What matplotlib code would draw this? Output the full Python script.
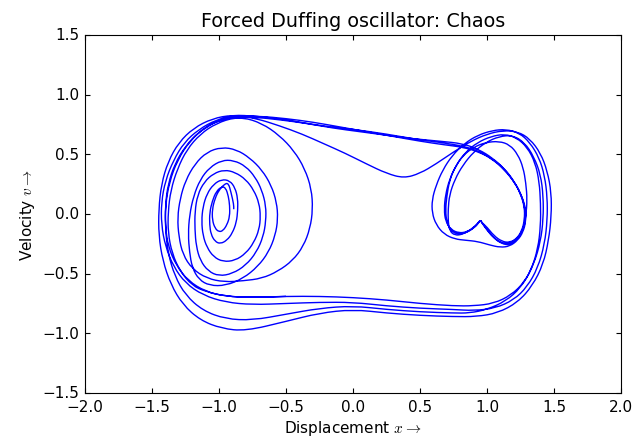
import matplotlib
matplotlib.use('Agg')
import matplotlib.pyplot as plt
import numpy as np
from matplotlib.patches import PathPatch
from matplotlib.path import Path

# phase-space trajectory, split into passes
# (x = displacement, v = velocity), drawn in order
escape1_x = [-0.50, -0.75, -0.95, -1.10, -1.20, -1.29, -1.35, -1.38, -1.38, -1.36, -1.31, -1.24, -1.14, -1.02,
             -0.88, -0.72, -0.55, -0.35, -0.15, 0.05, 0.25, 0.45, 0.65]
escape1_v = [-0.69, -0.70, -0.69, -0.65, -0.60, -0.48, -0.33, -0.16, 0.02, 0.20, 0.38, 0.54, 0.67, 0.76,
             0.81, 0.81, 0.79, 0.76, 0.72, 0.69, 0.66, 0.63, 0.61]

right1_x = [0.82, 0.94, 1.04, 1.13, 1.20, 1.25, 1.28, 1.28, 1.26, 1.22, 1.16, 1.10, 1.04, 0.99, 0.96, 0.95, 0.94,
            0.90, 0.84, 0.78, 0.73, 0.70, 0.69, 0.70, 0.72, 0.76, 0.82, 0.90, 0.99, 1.09, 1.17, 1.23, 1.27, 1.29,
            1.30, 1.29, 1.27, 1.23, 1.17, 1.11, 1.05, 1.00, 0.96, 0.95, 0.93, 0.88, 0.82, 0.76, 0.72, 0.71, 0.71,
            0.72, 0.76, 0.82, 0.90, 0.99, 1.09, 1.19, 1.28, 1.35, 1.40, 1.42, 1.42, 1.40, 1.35, 1.28, 1.18, 1.05,
            0.90]
right1_v = [0.59, 0.54, 0.47, 0.38, 0.28, 0.17, 0.06, -0.05, -0.14, -0.21, -0.25, -0.24, -0.19, -0.12, -0.07, -0.05,
            -0.07, -0.12, -0.16, -0.17, -0.14, -0.07, 0.03, 0.15, 0.28, 0.39, 0.49, 0.56, 0.60, 0.61, 0.58, 0.50,
            0.39, 0.26, 0.12, -0.02, -0.13, -0.21, -0.26, -0.25, -0.20, -0.13, -0.07, -0.05, -0.08, -0.13, -0.17,
            -0.18, -0.14, -0.06, 0.04, 0.16, 0.29, 0.41, 0.52, 0.60, 0.65, 0.66, 0.60, 0.48, 0.33, 0.15, -0.04,
            -0.23, -0.42, -0.57, -0.68, -0.75, -0.77]

return1_x = [0.75, 0.50, 0.25, 0.00, -0.25, -0.50, -0.75, -0.95, -1.10, -1.23, -1.32, -1.38, -1.40, -1.40, -1.38,
             -1.33, -1.25, -1.15, -1.02, -0.88, -0.70, -0.50, -0.30, -0.10, 0.10, 0.30, 0.50, 0.68]
return1_v = [-0.77, -0.75, -0.72, -0.70, -0.69, -0.69, -0.70, -0.69, -0.65, -0.56, -0.43, -0.27, -0.10, 0.08, 0.25,
             0.42, 0.57, 0.69, 0.78, 0.82, 0.82, 0.80, 0.77, 0.73, 0.69, 0.65, 0.61, 0.58]

right2_x = [0.82, 0.94, 1.04, 1.13, 1.21, 1.26, 1.29, 1.29, 1.27, 1.23, 1.17, 1.10, 1.02, 0.93, 0.84, 0.76, 0.68,
            0.62, 0.59, 0.59, 0.62, 0.67, 0.74, 0.83, 0.93, 1.04, 1.14, 1.24, 1.32, 1.39, 1.43, 1.45, 1.45, 1.43,
            1.38, 1.30, 1.20, 1.06, 0.90]
right2_v = [0.56, 0.52, 0.46, 0.37, 0.26, 0.15, 0.04, -0.06, -0.15, -0.22, -0.27, -0.28, -0.26, -0.23, -0.22, -0.21,
            -0.17, -0.09, 0.01, 0.12, 0.24, 0.37, 0.49, 0.59, 0.66, 0.70, 0.71, 0.68, 0.60, 0.47, 0.32, 0.14,
            -0.05, -0.25, -0.45, -0.61, -0.72, -0.79, -0.81]

return2_x = [0.75, 0.50, 0.25, 0.00, -0.25, -0.50, -0.75, -0.95, -1.12, -1.25, -1.34, -1.40, -1.43, -1.43, -1.40,
             -1.34, -1.26, -1.15, -1.02, -0.88, -0.72, -0.55, -0.38, -0.22, -0.06, 0.10, 0.25, 0.38]
return2_v = [-0.80, -0.79, -0.77, -0.74, -0.74, -0.75, -0.76, -0.74, -0.68, -0.58, -0.44, -0.27, -0.09, 0.10, 0.28,
             0.45, 0.60, 0.71, 0.79, 0.83, 0.80, 0.74, 0.67, 0.59, 0.51, 0.42, 0.34, 0.30]

right3_x = [0.50, 0.62, 0.75, 0.88, 1.00, 1.12, 1.23, 1.32, 1.40, 1.45, 1.48, 1.48, 1.46, 1.42, 1.34, 1.23, 1.08,
            0.92]
right3_v = [0.34, 0.42, 0.52, 0.61, 0.67, 0.70, 0.69, 0.63, 0.51, 0.36, 0.18, -0.02, -0.22, -0.42, -0.60, -0.74,
            -0.83, -0.86]

return3_x = [0.75, 0.50, 0.25, 0.00, -0.25, -0.50, -0.80, -0.98, -1.14, -1.27, -1.36, -1.42, -1.45, -1.45, -1.43,
             -1.38, -1.30, -1.19, -1.05, -0.90, -0.72, -0.50, -0.25, 0.00, 0.25, 0.45, 0.65]
return3_v = [-0.86, -0.85, -0.83, -0.80, -0.83, -0.90, -0.98, -0.96, -0.89, -0.76, -0.59, -0.39, -0.18, 0.04, 0.25,
             0.44, 0.60, 0.72, 0.80, 0.83, 0.82, 0.79, 0.74, 0.71, 0.67, 0.63, 0.60]

right4_x = [0.82, 0.93, 1.03, 1.12, 1.19, 1.25, 1.28, 1.29, 1.27, 1.23, 1.17, 1.11, 1.05, 1.00, 0.96, 0.95, 0.94,
            0.91, 0.85, 0.79, 0.73, 0.69, 0.68, 0.69, 0.72, 0.77, 0.84, 0.93, 1.03, 1.13, 1.22, 1.30, 1.36, 1.39,
            1.40, 1.40, 1.38, 1.33, 1.25, 1.14, 1.00, 0.87]
right4_v = [0.57, 0.53, 0.47, 0.39, 0.29, 0.18, 0.07, -0.04, -0.13, -0.20, -0.24, -0.23, -0.18, -0.11, -0.07, -0.05,
            -0.07, -0.11, -0.15, -0.16, -0.13, -0.06, 0.04, 0.16, 0.29, 0.41, 0.52, 0.60, 0.65, 0.67, 0.64, 0.56,
            0.43, 0.27, 0.09, -0.10, -0.29, -0.47, -0.62, -0.73, -0.80, -0.83]

settle_x = [0.75, 0.50, 0.25, 0.00, -0.25, -0.50, -0.75, -0.95, -1.12, -1.25, -1.33, -1.38, -1.40, -1.40, -1.37,
            -1.31, -1.22, -1.10, -0.96, -0.82, -0.68, -0.55, -0.44, -0.36, -0.31, -0.30, -0.32, -0.37, -0.45, -0.56,
            -0.68, -0.82, -0.96, -1.09, -1.20, -1.27, -1.30, -1.31, -1.29, -1.25, -1.18, -1.09, -0.98, -0.87, -0.77,
            -0.68, -0.61, -0.57, -0.56, -0.58, -0.63, -0.71, -0.82, -0.95, -1.07, -1.15, -1.20, -1.22, -1.23, -1.22,
            -1.19, -1.14, -1.07, -0.98, -0.89, -0.80, -0.73, -0.68, -0.65, -0.65, -0.67, -0.72, -0.80, -0.90, -1.00,
            -1.08, -1.14, -1.17, -1.18, -1.18, -1.16, -1.11, -1.04, -0.96, -0.88, -0.80, -0.74, -0.70, -0.69, -0.70,
            -0.74, -0.80, -0.88, -0.97, -1.04, -1.09, -1.12, -1.13, -1.12, -1.09, -1.04, -0.98, -0.92, -0.88, -0.86,
            -0.86, -0.87, -0.90, -0.94, -0.99, -1.03, -1.06, -1.07, -1.07, -1.05, -1.02, -0.98, -0.95, -0.93, -0.92,
            -0.92, -0.94, -0.97, -1.00, -1.03, -1.05, -1.05, -1.03, -1.00, -0.96, -0.93, -0.91, -0.89, -0.89]
settle_v = [-0.83, -0.82, -0.80, -0.77, -0.79, -0.84, -0.89, -0.88, -0.81, -0.68, -0.52, -0.33, -0.13, 0.07, 0.27,
            0.45, 0.61, 0.73, 0.80, 0.81, 0.76, 0.66, 0.53, 0.38, 0.21, 0.04, -0.12, -0.27, -0.39, -0.48,
            -0.54, -0.56, -0.57, -0.54, -0.46, -0.34, -0.19, -0.03, 0.13, 0.28, 0.42, 0.52, 0.56, 0.54, 0.47,
            0.37, 0.24, 0.10, -0.04, -0.18, -0.32, -0.44, -0.54, -0.60, -0.60, -0.55, -0.45, -0.32, -0.17, -0.01,
            0.15, 0.29, 0.39, 0.45, 0.45, 0.40, 0.31, 0.20, 0.07, -0.06, -0.19, -0.32, -0.43, -0.50, -0.52,
            -0.48, -0.39, -0.27, -0.13, 0.02, 0.16, 0.27, 0.34, 0.37, 0.35, 0.29, 0.20, 0.09, -0.02, -0.13,
            -0.24, -0.33, -0.39, -0.40, -0.36, -0.28, -0.18, -0.06, 0.06, 0.17, 0.25, 0.29, 0.28, 0.22, 0.13,
            0.03, -0.07, -0.16, -0.22, -0.25, -0.23, -0.17, -0.09, 0.01, 0.11, 0.19, 0.23, 0.22, 0.15, 0.07,
            -0.02, -0.09, -0.14, -0.15, -0.12, -0.05, 0.04, 0.13, 0.20, 0.25, 0.26, 0.18, 0.08, 0.04]

x_ticks = [-2.0, -1.5, -1.0, -0.5, 0.0, 0.5, 1.0, 1.5, 2.0]
v_ticks = [-1.5, -1.0, -0.5, 0.0, 0.5, 1.0, 1.5]


def traced_path(xs, vs):
    # quadratic bezier through the traced points, so the polyline corners get rounded off
    pts = np.column_stack([xs, vs])
    mids = (pts[:-1] + pts[1:]) / 2
    verts = [pts[0], mids[0]]
    codes = [Path.MOVETO, Path.LINETO]
    for i in range(1, len(pts) - 1):
        verts += [pts[i], mids[i]]
        codes += [Path.CURVE3, Path.CURVE3]
    verts.append(pts[-1])
    codes.append(Path.LINETO)
    return Path(verts, codes)


plt.style.use('classic')
plt.rcParams['figure.facecolor'] = 'white'
plt.rcParams['font.family'] = 'DejaVu Sans'

traj_x = (escape1_x + right1_x + return1_x + right2_x + return2_x + right3_x + return3_x
          + right4_x + settle_x)
traj_v = (escape1_v + right1_v + return1_v + right2_v + return2_v + right3_v + return3_v
          + right4_v + settle_v)

fig = plt.figure(figsize=(6.33, 4.39), dpi=100)
ax = fig.add_axes([85 / 633, 45 / 439, 536 / 633, 358 / 439])
ax.add_patch(PathPatch(traced_path(traj_x, traj_v), fill=False, edgecolor='b', linewidth=1.0))

ax.set_xlim(-2, 2)
ax.set_ylim(-1.5, 1.5)
ax.set_xticks(x_ticks)
ax.set_yticks(v_ticks)
ax.tick_params(labelsize=11, direction='in', length=3.5, width=0.8, pad=4)
for s in ax.spines.values():
    s.set_linewidth(0.8)
ax.set_xlabel(r'Displacement $x \rightarrow$', fontsize=11, labelpad=3)
ax.set_ylabel(r'Velocity $v \rightarrow$', fontsize=11, labelpad=4)
ax.set_title('Forced Duffing oscillator: Chaos', fontsize=13.8, y=1.005)

fig.savefig('out.png', dpi=100, facecolor='white')
